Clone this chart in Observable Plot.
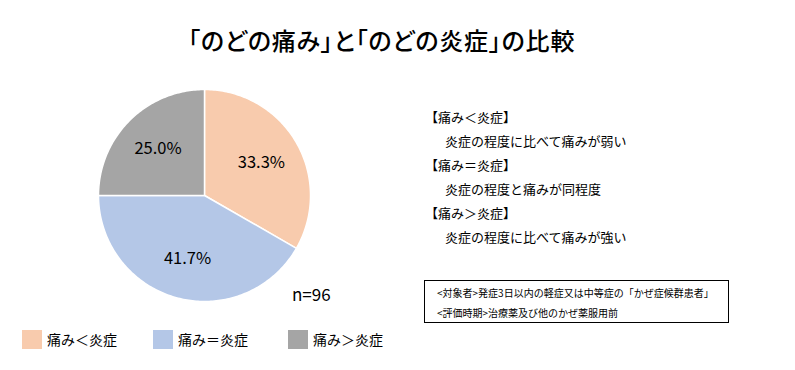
<!DOCTYPE html>
<html>
<head>
<meta charset="utf-8">
<script src="https://cdn.jsdelivr.net/npm/d3@7"></script>
<script src="https://cdn.jsdelivr.net/npm/@observablehq/plot@0.6"></script>
<style>
  html, body { margin: 0; padding: 0; background: #fff; }
  #wrap { position: relative; width: 795px; height: 370px; overflow: hidden;
          font-family: "Noto Sans CJK JP", "Noto Sans", sans-serif; color: #000; }
  #chart { position: absolute; left: 0; top: 0; }
  .abs { position: absolute; white-space: nowrap; line-height: 1; }
  #title { left: 188px; top: 28px; font-size: 24px; font-weight: 500; letter-spacing: 0.8px;
           font-feature-settings: "palt"; }
  #notes { left: 425px; top: 108px; font-size: 13px; }
  #notes div { height: 24px; line-height: 18px; }
  #notes .ind { padding-left: 20px; }
  #box { left: 424px; top: 280px; width: 305px; height: 43px; border: 1px solid #000; box-sizing: border-box; font-size: 10px; }
  #box div { position: absolute; left: 12px; line-height: 12px; }
  #n { left: 292px; top: 285px; font-size: 17px; }
  .leg { position: absolute; top: 329px; display: flex; align-items: center; font-size: 14px; }
  .sw { width: 20px; height: 19px; margin-right: 5px; }
</style>
</head>
<body>
<div id="wrap">
  <div id="chart"></div>
  <div id="title" class="abs"></div>
  <div id="notes" class="abs"></div>
  <div id="box" class="abs"></div>
  <div id="n" class="abs"></div>
  <div id="legend"></div>
</div>
<script>
const title = "「のどの痛み」と「のどの炎症」の比較";
const categories = ["痛み＜炎症", "痛み＝炎症", "痛み＞炎症"];
const values = [33.3, 41.7, 25.0];
const colors = ["#F8CBAD", "#B4C7E7", "#A5A5A5"];
const nLabel = "n=96";
const noteHeads = ["【痛み＜炎症】", "【痛み＝炎症】", "【痛み＞炎症】"];
const noteTexts = ["炎症の程度に比べて痛みが弱い", "炎症の程度と痛みが同程度", "炎症の程度に比べて痛みが強い"];
const boxLines = ["<対象者>発症3日以内の軽症又は中等症の「かぜ症候群患者」", "<評価時期>治療薬及び他のかぜ薬服用前"];

const data = categories.map((c, i) => ({cat: c, value: values[i]}));
const arcs = d3.pie().sort(null).value(d => d.value)(data);

// polygon outline of each slice (center -> arc -> center)
const pts = [];
for (const a of arcs) {
  pts.push({cat: a.data.cat, x: 0, y: 0});
  const steps = Math.max(2, Math.ceil((a.endAngle - a.startAngle) / (Math.PI / 180)));
  for (let k = 0; k <= steps; k++) {
    const t = a.startAngle + (a.endAngle - a.startAngle) * k / steps;
    pts.push({cat: a.data.cat, x: Math.sin(t), y: Math.cos(t)});
  }
  pts.push({cat: a.data.cat, x: 0, y: 0});
}
const labelR = 0.62;
const labels = arcs.map(a => {
  const m = (a.startAngle + a.endAngle) / 2;
  return {x: labelR * Math.sin(m), y: labelR * Math.cos(m), text: a.data.value.toFixed(1) + "%"};
});

const chart = Plot.plot({
  width: 795,
  height: 370,
  marginLeft: 98,
  marginRight: 485,
  marginTop: 89,
  marginBottom: 69,
  x: {domain: [-1, 1], axis: null},
  y: {domain: [-1, 1], axis: null},
  color: {domain: categories, range: colors},
  style: {fontFamily: "'Noto Sans CJK JP', 'Noto Sans', sans-serif", background: "transparent"},
  marks: [
    Plot.line(pts, {x: "x", y: "y", z: "cat", fill: "cat", stroke: "white", strokeWidth: 1.5, curve: "linear", strokeLinejoin: "round"}),
    Plot.text(labels, {x: "x", y: "y", text: "text", fontSize: 16.5, fill: "#000"})
  ]
});
document.getElementById("chart").appendChild(chart);

document.getElementById("title").textContent = title;
document.getElementById("n").textContent = nLabel;
const notes = document.getElementById("notes");
noteHeads.forEach((h, i) => {
  const d1 = document.createElement("div"); d1.textContent = h; notes.appendChild(d1);
  const d2 = document.createElement("div"); d2.className = "ind"; d2.textContent = noteTexts[i]; notes.appendChild(d2);
});
const box = document.getElementById("box");
boxLines.forEach((t, i) => {
  const d = document.createElement("div"); d.textContent = t; d.style.top = (6 + i * 20) + "px"; box.appendChild(d);
});
const legX = [22, 153, 288];
const legend = document.getElementById("legend");
categories.forEach((c, i) => {
  const item = document.createElement("div");
  item.className = "leg"; item.style.left = legX[i] + "px";
  const sw = document.createElement("div"); sw.className = "sw"; sw.style.background = colors[i];
  const tx = document.createElement("span"); tx.textContent = c;
  item.appendChild(sw); item.appendChild(tx);
  legend.appendChild(item);
});
</script>
</body>
</html>
